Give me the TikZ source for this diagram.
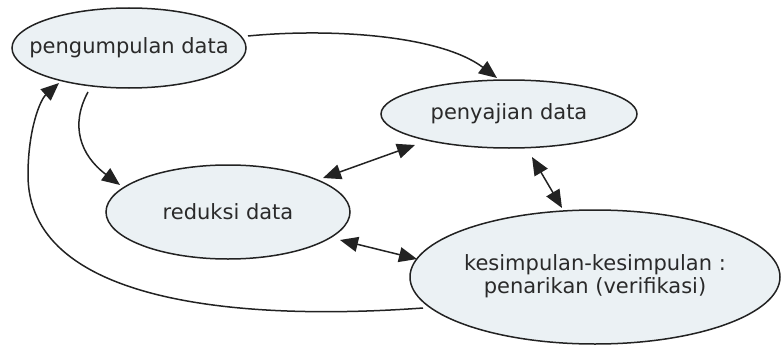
\documentclass[tikz,border=0pt]{standalone}
\usepackage{fontspec}
\setmainfont{DejaVu Sans}
\usetikzlibrary{shapes.geometric,arrows.meta}
\definecolor{ellfill}{HTML}{EBF1F4}
\definecolor{txt}{HTML}{2A2A2A}
\definecolor{ln}{HTML}{222222}
\tikzset{
  ell/.style={ellipse,draw=ln,line width=1.5pt,fill=ellfill,inner sep=0pt,text=txt,
    font=\fontsize{21}{25}\selectfont},
  conn/.style={draw=ln,line width=1.5pt,-{Triangle[length=18pt,width=15pt]}},
  dconn/.style={draw=ln,line width=1.5pt,{Triangle[length=18pt,width=15pt]}-{Triangle[length=18pt,width=15pt]}}
}
\newcommand{\zw}[1]{\makebox[0pt][c]{#1}}
\begin{document}
\begin{tikzpicture}[x=1pt,y=-1pt]
\useasboundingbox (0,0) rectangle (781,345);
\node[ell,minimum width=234pt,minimum height=80pt] (pen) at (129,48) {\zw{pengumpulan data}};
\node[ell,minimum width=256pt,minimum height=68pt] (saj) at (509,114) {\zw{penyajian data}};
\node[ell,minimum width=244pt,minimum height=94pt] (red) at (228,212) {\zw{reduksi data}};
\node[ell,minimum width=370pt,minimum height=134pt] (kes) at (595,277) {\zw{\begin{tabular}{@{}c@{}}kesimpulan-kesimpulan :\\[-2pt]penarikan (verifikasi)\end{tabular}}};
% pengumpulan -> penyajian
\draw[conn] ([shift={(119,-12)}]pen.center) .. controls (330,28) and (440,35) .. ([shift={(-12,-36)}]saj.center);
% pengumpulan -> reduksi
\draw[conn] ([shift={(-41,44)}]pen.center) .. controls (70,125) and (80,155) .. ([shift={(-108,-27)}]red.center);
% double arrows
\draw[dconn] ([shift={(95,-34)}]red.center) -- ([shift={(-94,31)}]saj.center);
\draw[dconn] ([shift={(23,43)}]saj.center) -- ([shift={(-33,-69)}]kes.center);
\draw[dconn] ([shift={(112,28)}]red.center) -- ([shift={(-178,-18)}]kes.center);
% kesimpulan -> pengumpulan
\coordinate (bend) at (28,175);
\draw[line width=1.5pt,draw=ln] ([shift={(-172,31)}]kes.center) .. controls (230,322) and (28,300) .. (bend);
\draw[conn] (bend) .. controls (28,130) and (40,100) .. ([shift={(-70,35)}]pen.center);
\end{tikzpicture}
\end{document}
